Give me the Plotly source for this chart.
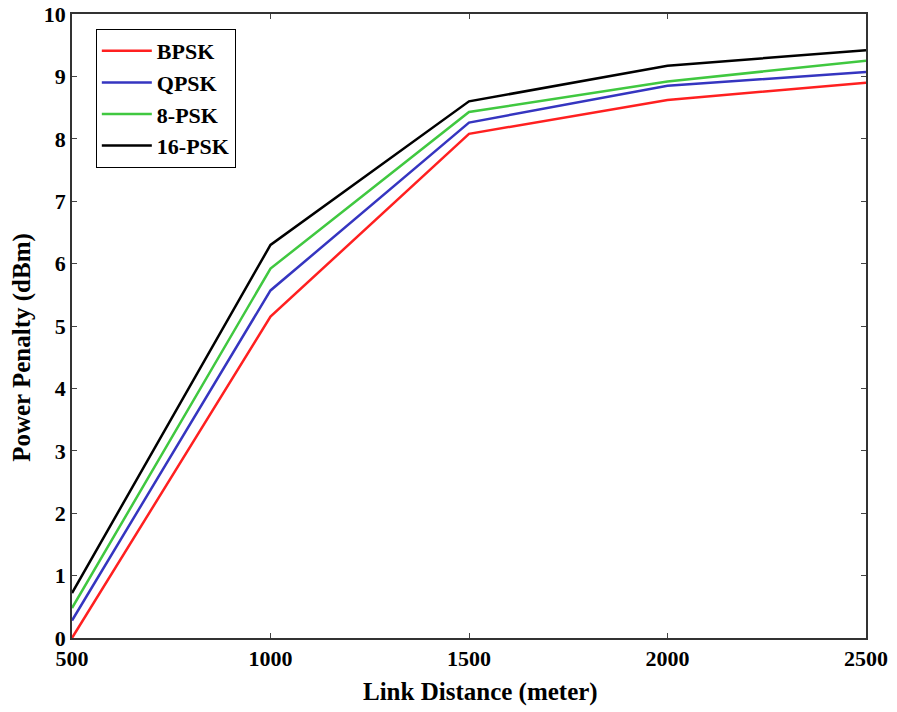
import plotly.graph_objects as go

distance = [500, 1000, 1500, 2000, 2500]
bpsk = [0.0, 5.15, 8.08, 8.62, 8.90]
qpsk = [0.28, 5.57, 8.26, 8.85, 9.07]
psk8 = [0.48, 5.92, 8.43, 8.92, 9.25]
psk16 = [0.72, 6.30, 8.60, 9.17, 9.42]
x_ticks = [500, 1000, 1500, 2000, 2500]
y_ticks = list(range(0, 11))
x_title = "Link Distance (meter)"
y_title = "Power Penalty (dBm)"

series = [("BPSK", bpsk, "#ff2020", 2.5), ("QPSK", qpsk, "#3535c0", 2.5),
          ("8-PSK", psk8, "#40c840", 2.5), ("16-PSK", psk16, "#000000", 2.5)]

fig = go.Figure()
for name, vals, col, w in series:
    fig.add_trace(go.Scatter(x=distance, y=vals, mode="lines", name="<b>%s</b>" % name,
                             line=dict(color=col, width=w)))

font = "Liberation Serif, Times New Roman, serif"
fig.update_layout(
    width=889, height=704,
    margin=dict(l=64, r=31, t=6, b=74, autoexpand=False),
    paper_bgcolor="white", plot_bgcolor="white",
    font=dict(family=font, size=22, color="black"),
    showlegend=True,
    legend=dict(x=0.030, y=0.976, xanchor="left", yanchor="top",
                bordercolor="black", borderwidth=1, bgcolor="white",
                font=dict(family=font, size=22, color="black"),
                tracegroupgap=0, itemwidth=50),
    xaxis=dict(range=[500, 2500], tickvals=x_ticks,
               ticktext=["<b>%d</b>" % v for v in x_ticks],
               ticks="inside", ticklen=5, mirror="ticks", showline=True,
               linecolor="#333", linewidth=1.5, showgrid=False, zeroline=False,
               automargin=False, ticklabeloverflow="allow"),
    yaxis=dict(range=[0, 10], tickvals=y_ticks,
               ticktext=["<b>%d</b>" % v for v in y_ticks],
               ticks="inside", ticklen=5, mirror="ticks", showline=True,
               linecolor="#333", linewidth=1.5, showgrid=False, zeroline=False,
               automargin=False, ticklabeloverflow="allow"),
    annotations=[
        dict(text="<b>%s</b>" % x_title, xref="paper", yref="paper", x=0.514, y=0,
             xanchor="center", yanchor="middle", yshift=-54, showarrow=False,
             font=dict(family=font, size=25, color="black")),
        dict(text="<b>%s</b>" % y_title, xref="paper", yref="paper", x=0, y=0.465,
             xanchor="center", yanchor="middle", xshift=-50, textangle=-90, showarrow=False,
             font=dict(family=font, size=25, color="black")),
    ],
)

fig.write_html("out.html")
